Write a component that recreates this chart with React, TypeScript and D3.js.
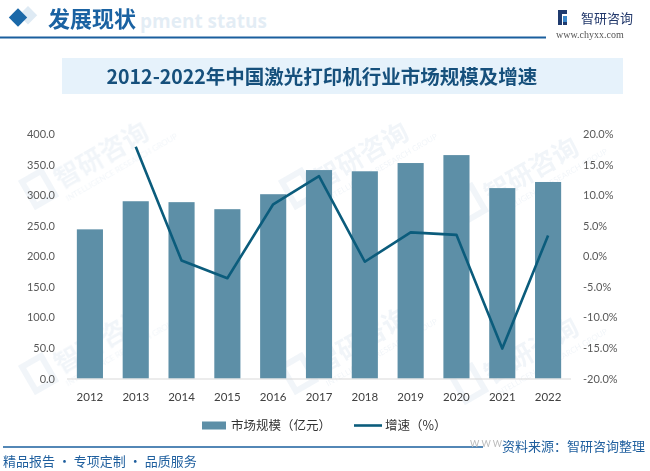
import React from "react";
import * as d3 from "d3";

const years = ["2012","2013","2014","2015","2016","2017","2018","2019","2020","2021","2022"];
const marketSize = [244, 290, 288.5, 277, 301.5, 341, 339, 352.5, 365.5, 311.5, 321.5];
const growth: (number | null)[] = [null, 17.9, -0.7, -3.6, 8.5, 13.1, -0.9, 3.9, 3.5, -15.1, 3.4];
const leftTicks = [0, 50, 100, 150, 200, 250, 300, 350, 400];
const rightTicks = [-20, -15, -10, -5, 0, 5, 10, 15, 20];

const W = 650, H = 471;
const plotLeft = 67, plotRight = 571, plotTop = 134, plotBottom = 378.5;
const barColor = "#5d8fa7";
const lineColor = "#0b5c7c";
const tickFont = "Lato, 'Liberation Sans', sans-serif";
const cjkFont = "'Noto Sans CJK SC', sans-serif";

export default function App() {
  const x = d3.scaleBand<string>().domain(years).range([plotLeft, plotRight]).paddingInner(0.43).paddingOuter(0.215);
  const yL = d3.scaleLinear().domain([0, 400]).range([plotBottom, plotTop]);
  const yR = d3.scaleLinear().domain([-20, 20]).range([plotBottom, plotTop]);
  const pts = years.map((yr, i) => ({ yr, v: growth[i] })).filter(d => d.v !== null) as { yr: string; v: number }[];
  const line = d3.line<{ yr: string; v: number }>()
    .x(d => (x(d.yr) as number) + x.bandwidth() / 2)
    .y(d => yR(d.v));

  const watermarks = [
    [70, 175], [330, 175], [500, 190], [70, 360], [330, 360], [500, 370]
  ];

  return (
    <svg width={W} height={H} style={{ position: "absolute", left: 0, top: 0, background: "#fff" }}>
      {/* watermarks */}
      <g opacity={0.06}>
        {watermarks.map(([wx, wy], i) => (
          <g key={i} transform={`translate(${wx},${wy}) rotate(-30)`}>
            <rect x={-45} y={-18} width={22} height={28} fill="none" stroke="#1f5f9e" strokeWidth={6} />
            <text x={-15} y={8} fontFamily={cjkFont} fontSize={26} fontWeight="bold" fill="#1f5f9e">智研咨询</text>
            <text x={-15} y={22} fontFamily={tickFont} fontSize={8} fill="#1f5f9e">INTELLIGENCE RESEARCH GROUP</text>
          </g>
        ))}
      </g>

      {/* header */}
      <text x={140} y={28} fontFamily="'Open Sans', sans-serif" fontWeight="bold" fontSize={19} fill="#1f6fb2" opacity={0.12}>pment status</text>
      <rect x={21} y={9} width={13} height={13} fill="#1f6fb2" opacity={0.15} transform="rotate(45 28 16)" />
      <rect x={11.5} y={11} width={13} height={13} fill="#1a68a8" transform="rotate(45 18 17.5)" />
      <text x={48} y={27} fontFamily={cjkFont} fontSize={22} fontWeight="bold" fill="#1a62a2">发展现状</text>
      <line x1={0} x2={546} y1={37.5} y2={37.5} stroke="#1a5f9e" strokeWidth={2} />
      {/* logo */}
      <g>
        <rect x={558} y={10} width={4} height={15} fill="#1f3a6e" />
        <rect x={558} y={10} width={9} height={4} fill="#1f3a6e" />
        <rect x={563} y={16} width={4} height={9} fill="#3a86c8" />
        <rect x={563} y={22} width={4} height={3} fill="#1f3a6e" />
      </g>
      <text x={581} y={23} fontFamily={cjkFont} fontSize={13} fill="#22386b">智研咨询</text>
      <text x={556} y={38} fontFamily="'Liberation Serif', serif" fontSize={10} fill="#555">www.chyxx.com</text>

      {/* title banner */}
      <rect x={62} y={58} width={561} height={36} fill="#e6f2fb" />
      <text x={322} y={84} textAnchor="middle" fontFamily={cjkFont} fontSize={19.5} fontWeight="bold" fill="#16507c">2012-2022年中国激光打印机行业市场规模及增速</text>

      {/* bars */}
      {years.map((yr, i) => (
        <rect key={yr} x={x(yr)} y={yL(marketSize[i])} width={x.bandwidth()} height={plotBottom - yL(marketSize[i])} fill={barColor} />
      ))}
      {/* axis line */}
      <line x1={plotLeft} x2={plotRight} y1={plotBottom + 0.5} y2={plotBottom + 0.5} stroke="#d9d9d9" strokeWidth={1} />

      {/* line */}
      <path d={line(pts) || ""} fill="none" stroke={lineColor} strokeWidth={2.6} strokeLinejoin="round" />

      {/* left ticks */}
      {leftTicks.map(t => (
        <text key={t} x={55} y={yL(t) + 4} textAnchor="end" fontFamily={tickFont} fontSize={11} fill="#595959">{t.toFixed(1)}</text>
      ))}
      {/* right ticks */}
      {rightTicks.map(t => (
        <text key={t} x={583} y={yR(t) + 4} fontFamily={tickFont} fontSize={11} fill="#595959">{t.toFixed(1)}%</text>
      ))}
      {/* x labels */}
      {years.map(yr => (
        <text key={yr} x={(x(yr) as number) + x.bandwidth() / 2} y={401} textAnchor="middle" fontFamily={tickFont} fontSize={11.5} fill="#404040">{yr}</text>
      ))}

      {/* legend */}
      <rect x={202} y={421.5} width={24} height={8} fill={barColor} />
      <text x={231} y={430} fontFamily={cjkFont} fontSize={12.5} fill="#333">市场规模（亿元）</text>
      <line x1={354} x2={382} y1={425.5} y2={425.5} stroke={lineColor} strokeWidth={2.6} />
      <text x={385} y={430} fontFamily={cjkFont} fontSize={12.5} fill="#333">增速（%）</text>

      {/* footer */}
      <line x1={3} x2={483} y1={447} y2={447} stroke="#1a5f9e" strokeWidth={1.5} />
      <text x={470} y={447} fontFamily={tickFont} fontSize={9} fill="#bbb">W W W</text>
      <text x={502} y={451} fontFamily={cjkFont} fontSize={13} fill="#1f5f9e">资料来源：智研咨询整理</text>
      <text x={3} y={466} fontFamily={cjkFont} fontSize={13} fill="#1f5f9e">精品报告 · 专项定制 · 品质服务</text>
    </svg>
  );
}
